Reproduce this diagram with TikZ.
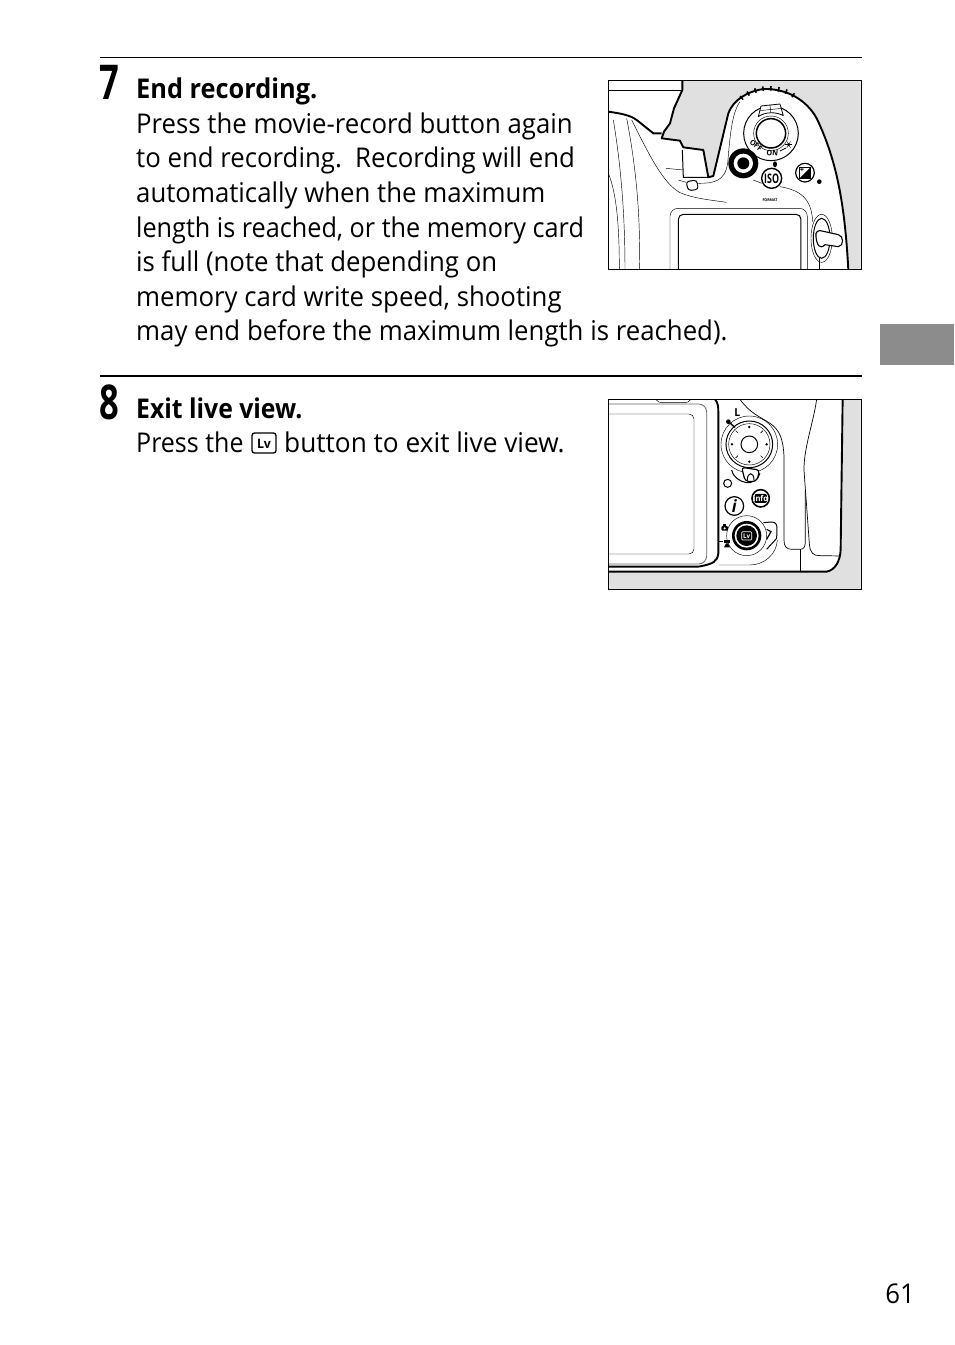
\documentclass[tikz,border=0pt]{standalone}
\usepackage{fontspec}
\setmainfont[FakeStretch=.948]{Open Sans}
\usetikzlibrary{calc}
\definecolor{tabgray}{gray}{.55}
\definecolor{campaper}{gray}{.88}
\tikzset{
 textline/.style={anchor=base west, inner sep=0, font=\fontsize{27.2}{30}\selectfont},
 boldline/.style={textline, font=\fontsize{27.2}{30}\selectfont\bfseries},
 stepnum/.style={anchor=base west, inner sep=0, font=\fontsize{48}{48}\selectfont\bfseries},
 hair/.style={black, line width=.45pt},
 body/.style={black, line width=1.9pt, line join=round},
 mid/.style={black, line width=1pt},
 tiny/.style={inner sep=0, font=\fontsize{7.5}{8}\selectfont\bfseries},
}
\begin{document}
\begin{tikzpicture}[x=1pt,y=-1pt]
\useasboundingbox (0,0) rectangle (954,1345);
\fill[white] (0,0) rectangle (954,1345);
% rules and thumb tab
\draw[black, line width=.8pt] (100,57) -- (862,57);
\draw[black, line width=1.6pt] (100,376) -- (862,376);
\fill[tabgray] (880,324) rectangle (954,365);
% step seven
\node[stepnum] (seven) at (99,99) {\scalebox{.76}[1]{7}};
\node[boldline] (l0) at (136,98) {\scalebox{.983}[1]{End recording.}};
\node[textline] (l1) at (136,133) {Press the movie-record button again};
\node[textline] (l2) at (136,167) {to end recording.\ \ Recording will end};
\node[textline] (l3) at (136,202) {automatically when the maximum};
\node[textline] (l4) at (136,237) {\scalebox{.978}[1]{length is reached, or the memory card}};
\node[textline] (l5) at (136,271) {is full (note that depending on};
\node[textline] (l6) at (136,306) {memory card write speed, shooting};
\node[textline] (l7) at (136,340) {may end before the maximum length is reached).};
% step eight
\node[stepnum] (eight) at (99,419) {\scalebox{.76}[1]{8}};
\node[boldline] (m0) at (136,418) {\scalebox{.96}[1]{Exit live view.}};
\node[textline] (m1) at (136,452) {\scalebox{.97}[1]{Press the}};
\node[textline] (m2) at (284,452) {\scalebox{1.018}[1]{button to exit live view.}};
\draw[black, line width=1.3pt, rounded corners=2.5pt] (252,433) rectangle (276,453);
\node[inner sep=0, font=\fontsize{13}{13}\selectfont\bfseries] (lvicon) at (264,444) {Lv};
\node[textline, anchor=base east] (page) at (915,1303) {61};
% first camera
\begin{scope}[shift={(600,70)}, x=.3333pt, y=-.3333pt]
\clip (25,30) rectangle (782,598);
\fill[campaper] (247,30) -- (782,30) -- (782,598) -- (745,598) .. controls (735,420) and (715,280) .. (650,145)
 .. controls (620,90) and (560,55) .. (490,57) .. controls (440,65) and (400,90) .. (385,130)
 -- (340,318) -- (325,322) -- (310,240) -- (250,232) -- (240,212) -- (185,205) -- (192,185) -- (210,160) -- (222,115) -- (247,60) -- cycle;
\draw[body] (247,30) -- (247,60) -- (222,115) -- (210,160) -- (192,185) -- (185,205) -- (240,212) -- (250,232) -- (310,240) -- (325,322) -- (340,318) -- (385,130)
 .. controls (400,90) and (440,65) .. (490,57) .. controls (560,55) and (620,90) .. (650,145) .. controls (715,280) and (735,420) .. (745,598);
\draw[body] (25,125) .. controls (60,130) and (90,135) .. (110,150) -- (160,190) -- (185,190);
\draw[mid] (247,240) -- (250,322) -- (325,322);
\draw[hair] (25,62) -- (245,62);
\draw[hair] (40,150) .. controls (65,300) and (75,450) .. (75,598);
\draw[hair] (80,145) .. controls (110,300) and (122,450) .. (118,598);
\draw[hair] (25,310) .. controls (50,370) and (58,470) .. (58,598);
\draw[hair] (95,150) .. controls (150,260) and (190,340) .. (240,368) .. controls (280,385) and (330,390) .. (380,397);
\draw[hair] (198,295) -- (250,300);
\draw[hair] (235,330) -- (258,337);
\draw[hair] (295,340) .. controls (340,340) and (375,335) .. (383,280) .. controls (390,200) and (395,130) .. (420,95);
\draw[hair] (460,330) -- (485,340);
\draw[hair] (540,350) .. controls (600,360) and (635,385) .. (638,455);
\draw[mid, rounded corners=3pt] (258,335) -- (290,330) -- (295,358) -- (265,362) -- cycle;
% command dial teeth
\foreach \a in {58,68,...,128} {
 \draw[black, line width=1.6pt] ($(508,190)+(-\a:128)$) -- ($(508,190)+(-\a:142)$);
}
% power switch
\draw[mid] (513,190) circle (82);
\draw[hair] (513,190) circle (52);
\draw[black, line width=1.5pt] (513,190) circle (44);
\filldraw[fill=white, draw=black, line width=.8pt, line join=round] (475,140) -- (483,108) -- (540,102) -- (550,137) .. controls (530,125) and (495,125) .. (475,140) -- cycle;
\draw[hair] (510,104) -- (512,127);
\draw[hair] (480,122) -- (545,115);
\node[tiny, rotate=-38] (off) at (468,226) {OFF};
\node[tiny, rotate=-5] (on) at (517,250) {ON};
\draw[black, line width=.7pt] (540,243) -- (558,234);
\fill[black] (566,224) circle (5);
\foreach \a in {0,60,...,300} {
 \draw[black, line width=.4pt] (566,224) -- ++(\a:11);
}
\fill[black] (525,283) ellipse (6 and 9);
% movie-record button
\fill[black] (430,280) circle (45);
\fill[white] (430,280) circle (29);
\fill[black] (430,280) circle (18);
% iso button
\filldraw[fill=white, draw=black, line width=1.4pt] (515,325) circle (30);
\node[inner sep=0, font=\fontsize{11}{11}\selectfont\bfseries] (iso) at (515,326) {\scalebox{.85}[1.2]{ISO}};
% exposure button
\filldraw[fill=white, draw=black, line width=1.2pt] (615,308) circle (28);
\filldraw[fill=white, draw=black, line width=1.4pt] (598,292) rectangle (632,326);
\fill[black] (632,292) -- (632,326) -- (598,326) -- cycle;
\node[inner sep=0, font=\fontsize{8}{8}\selectfont\bfseries] (plus) at (606,301) {+};
\fill[black] (658,335) circle (7);
% format mark
\node[inner sep=0, font=\fontsize{3.8}{4}\selectfont\bfseries] (fmt) at (510,391) {FORMAT};
% monitor
\draw[hair, rounded corners=8pt] (210,610) -- (210,415) -- (622,415) -- (622,610);
\draw[mid, rounded corners=5pt] (235,610) -- (235,433) -- (603,433) -- (603,610);
% rear switch
\draw[hair] (665,505) ellipse (32 and 72);
\draw[mid] (665,505) ellipse (25 and 60);
\filldraw[fill=white, draw=black, line width=1.1pt] (648,500) .. controls (645,485) and (655,478) .. (670,484) -- (715,494) .. controls (732,498) and (732,528) .. (715,530) -- (675,524) .. controls (660,540) and (650,525) .. (648,500) -- cycle;
\draw[hair] (658,565) -- (658,598);
\end{scope}
\draw[black, line width=.6pt] (608.3,80) rectangle (861.3,269.3);
% second camera
\begin{scope}[shift={(600,390)}, x=.3333pt, y=-.3333pt]
\clip (25,28) rectangle (782,598);
\fill[campaper] (728,28) -- (782,28) -- (782,598) -- (25,598) -- (25,545) -- (680,545) .. controls (705,540) and (720,515) .. (722,480) -- cycle;
\draw[body] (728,28) -- (722,480) .. controls (720,515) and (705,540) .. (680,545) -- (25,545);
\draw[body] (345,28) .. controls (355,40) and (355,50) .. (355,70) -- (355,490) .. controls (352,515) and (340,522) .. (295,530) -- (25,530);
% monitor
\draw[black!60, line width=.8pt, rounded corners=8pt] (25,42) -- (320,42) -- (320,522) -- (25,522);
\draw[hair, rounded corners=5pt] (25,72) -- (282,72) -- (282,492) -- (25,492);
\draw[hair, rounded corners=3pt] (168,28) -- (175,38) -- (265,38) -- (272,28);
% panel outlines
\draw[black, line width=.7pt] (420,28) .. controls (450,70) and (480,80) .. (510,100) .. controls (540,120) and (550,150) .. (552,200) -- (552,450) .. controls (552,470) and (560,478) .. (575,478) -- (600,478) .. controls (612,478) and (616,470) .. (616,455) -- (616,300);
\draw[hair] (600,478) -- (600,545);
\draw[black, line width=.7pt] (650,28) .. controls (640,100) and (612,170) .. (612,240) -- (628,460) .. controls (630,490) and (640,497) .. (660,497) -- (722,498);
\draw[hair] (357,525) -- (450,525) .. controls (490,525) and (530,495) .. (532,450);
% multi selector
\draw[hair] (448,163) circle (85);
\draw[mid] (448,163) circle (70);
\draw[hair] (448,163) circle (62);
\filldraw[fill=white, draw=black, line width=1pt] (448,163) circle (25);
\foreach \a in {45,135,225,315} {
 \draw[black, line width=.6pt] ($(448,163)+(\a:48)$) -- ($(448,163)+(\a:58)$);
}
\foreach \a in {0,90,180,270} {
 \fill[black] ($(448,163)+(\a:52)$) circle (4);
}
\node[inner sep=0, font=\fontsize{11}{11}\selectfont\bfseries] (lock) at (412,67) {L};
\fill[black] (385,95) circle (7);
\draw[black, line width=1.4pt] (385,95) -- (405,112);
% lock lever and led
\draw[mid] (395,240) .. controls (400,262) and (420,275) .. (440,278) .. controls (455,280) and (475,270) .. (480,250);
\filldraw[fill=white, draw=black, line width=1.2pt, rounded corners=3pt] (425,232) -- (478,240) -- (472,270) -- (455,276) -- (435,272) -- cycle;
\draw[mid] (442,270) .. controls (442,245) and (462,245) .. (462,270);
\draw[mid] (383,280) circle (12);
% info and i
\filldraw[fill=white, draw=black, line width=1.6pt] (482,325) circle (26);
\fill[black, rounded corners=2pt] (463,312) rectangle (501,339);
\node[inner sep=0, text=white, font=\fontsize{8}{8}\selectfont\bfseries] (info) at (482,326) {info};
\draw[black, line width=1.2pt] (403,348) circle (28);
\node[inner sep=0, font=\fontsize{17}{17}\selectfont\bfseries\itshape] (ibtn) at (403,348) {i};
% live view selector
\draw[hair] (440,437) circle (60);
\draw[mid] (490,398) -- (515,396) .. controls (528,396) and (532,405) .. (531,420) -- (530,445) -- (500,478);
\draw[black, line width=1.2pt] (500,418) -- (513,425) -- (500,448);
\fill[black] (440,437) circle (44);
\fill[white] (440,437) circle (36);
\fill[black] (440,437) circle (31);
\draw[white, line width=.7pt, rounded corners=1pt] (425,425) rectangle (455,450);
\node[inner sep=0, text=white, font=\fontsize{6.5}{7}\selectfont\bfseries] (lvbtn) at (440,438) {Lv};
% camera and movie marks
\fill[black, rounded corners=1pt] (364,408) rectangle (384,422);
\fill[black] (368,408) rectangle (378,403);
\fill[white] (374,415) circle (3.5);
\fill[black] (372,450) rectangle (390,460);
\fill[black] (378,460) -- (384,460) -- (390,472) -- (372,472) -- cycle;
\draw[black, line width=.8pt] (358,455) -- (368,455);
\end{scope}
\draw[black, line width=.6pt] (608.3,399.3) rectangle (861.3,589);
\end{tikzpicture}
\end{document}
